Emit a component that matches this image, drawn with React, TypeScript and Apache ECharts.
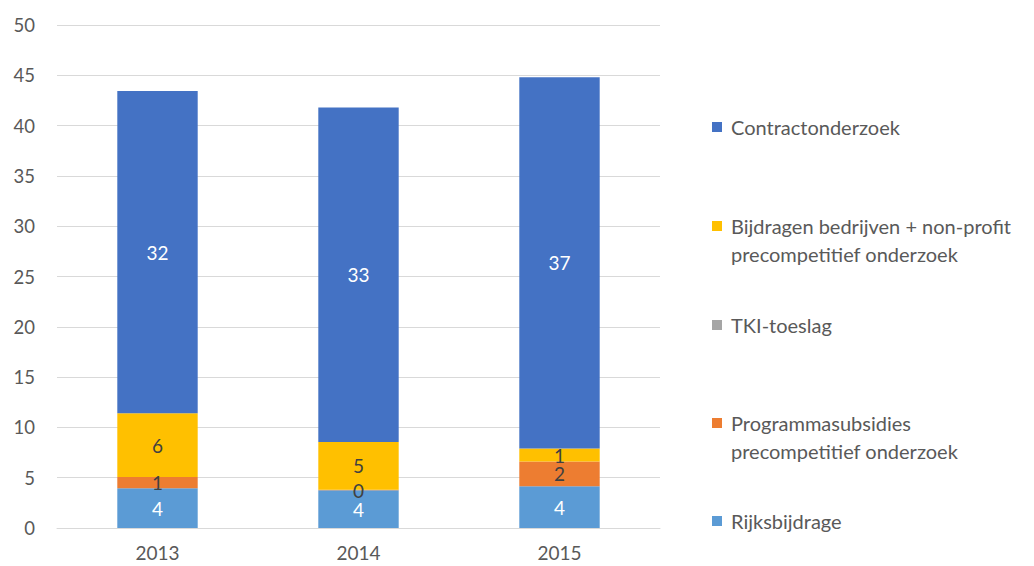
import React, { useEffect, useRef } from "react";
import * as echarts from "echarts";

const categories = ["2013", "2014", "2015"];
const rijksbijdrage = [3.95, 3.75, 4.15];
const programmasubsidies = [1.12, 0.04, 2.45];
const tkiToeslag = [0, 0, 0];
const bijdragen = [6.33, 4.77, 1.3];
const contractonderzoek = [32.04, 33.23, 36.91];

const NAME_RIJKS = "Rijksbijdrage";
const NAME_PROG = "Programmasubsidies precompetitief onderzoek";
const NAME_TKI = "TKI-toeslag";
const NAME_BIJ = "Bijdragen bedrijven + non-profit precompetitief onderzoek";
const NAME_CON = "Contractonderzoek";

const FONT = "Lato";
const GRAY = "#595959";

export default function App() {
  const ref = useRef<HTMLDivElement>(null);
  useEffect(() => {
    if (!ref.current) return;
    const chart = echarts.init(ref.current, null, { renderer: "svg" });
    const lbl = (color: string, show = true) => ({
      show,
      position: "inside",
      color,
      fontSize: 19,
      fontFamily: FONT,
      formatter: (p: any) => String(Math.round(p.value)),
    });
    const legendItem = (name: string, top: number) => ({
      data: [name],
      left: 712,
      top,
      padding: 0,
      icon: "rect",
      itemWidth: 10,
      itemHeight: 10,
      itemGap: 0,
      selectedMode: false,
      formatter: (n: string) => {
        if (n === NAME_BIJ) return " \nBijdragen bedrijven + non-profit\nprecompetitief onderzoek";
        if (n === NAME_PROG) return " \nProgrammasubsidies\nprecompetitief onderzoek";
        return n;
      },
      textStyle: {
        color: GRAY,
        fontSize: 20,
        fontFamily: FONT,
        lineHeight: 28,
        padding: [0, 0, 0, 4],
      },
    });
    const bar = (name: string, data: number[], color: string, label: any) => ({
      name,
      type: "bar",
      stack: "total",
      data,
      barWidth: "40%",
      itemStyle: { color },
      label,
    });
    chart.setOption({
      animation: false,
      grid: { left: 57, right: 374, top: 25, bottom: 38 },
      legend: [
        legendItem(NAME_CON, 127 - 14),
        legendItem(NAME_BIJ, 226 - 42),
        legendItem(NAME_TKI, 325 - 14),
        legendItem(NAME_PROG, 423 - 42),
        legendItem(NAME_RIJKS, 521 - 14),
      ],
      xAxis: {
        type: "category",
        data: categories,
        axisLine: { lineStyle: { color: "#d9d9d9", width: 1 } },
        axisTick: { show: false },
        axisLabel: { color: GRAY, fontSize: 19, fontFamily: FONT, margin: 15 },
      },
      yAxis: {
        type: "value",
        min: 0,
        max: 50,
        interval: 5,
        axisLine: { show: false },
        axisTick: { show: false },
        axisLabel: { color: GRAY, fontSize: 18.5, fontFamily: FONT, margin: 22 },
        splitLine: { lineStyle: { color: "#d9d9d9", width: 1 } },
      },
      series: [
        bar(NAME_RIJKS, rijksbijdrage, "#5B9BD5", lbl("#ffffff")),
        bar(NAME_PROG, programmasubsidies, "#ED7D31", lbl("#404040")),
        bar(NAME_TKI, tkiToeslag, "#A5A5A5", lbl("#404040", false)),
        bar(NAME_BIJ, bijdragen, "#FFC000", lbl("#404040")),
        bar(NAME_CON, contractonderzoek, "#4472C4", lbl("#ffffff")),
      ],
    });
    return () => chart.dispose();
  }, []);
  return <div ref={ref} style={{ width: 1034, height: 566, position: "absolute", left: 0, top: 0 }} />;
}
